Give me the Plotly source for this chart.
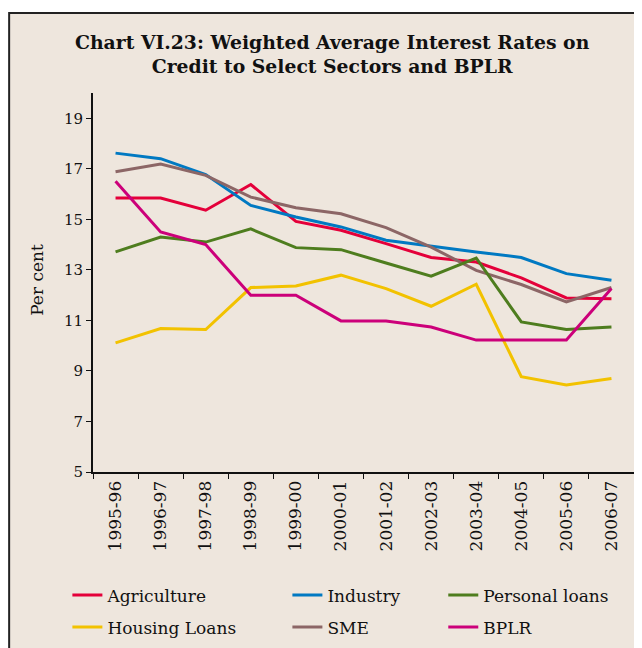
import plotly.graph_objects as go

years = ["1995-96", "1996-97", "1997-98", "1998-99", "1999-00", "2000-01",
         "2001-02", "2002-03", "2003-04", "2004-05", "2005-06", "2006-07"]

agriculture = [15.84, 15.84, 15.36, 16.38, 14.92, 14.57, 14.04, 13.49, 13.31, 12.68, 11.89, 11.86]
industry = [17.62, 17.40, 16.77, 15.55, 15.09, 14.70, 14.17, 13.93, 13.71, 13.49, 12.85, 12.59]
personal_loans = [13.71, 14.30, 14.10, 14.62, 13.88, 13.80, 13.27, 12.75, 13.47, 10.94, 10.64, 10.74]
housing_loans = [10.11, 10.68, 10.64, 12.30, 12.36, 12.79, 12.26, 11.56, 12.43, 8.77, 8.44, 8.70]
sme = [16.88, 17.19, 16.74, 15.88, 15.46, 15.22, 14.67, 13.90, 12.98, 12.42, 11.73, 12.30]
bplr = [16.51, 14.50, 14.00, 12.00, 12.00, 10.98, 10.98, 10.74, 10.22, 10.22, 10.22, 12.26]

y_ticks = [5, 7, 9, 11, 13, 15, 17, 19]

series = [
    ("Agriculture", agriculture, "#E4003A", "legend"),
    ("Housing Loans", housing_loans, "#F2C200", "legend"),
    ("Industry", industry, "#0079C2", "legend2"),
    ("SME", sme, "#8C6666", "legend2"),
    ("Personal loans", personal_loans, "#4E7D1E", "legend3"),
    ("BPLR", bplr, "#CC007A", "legend3"),
]

FONT = "DejaVu Serif"
fig = go.Figure()
for name, vals, color, lg in series:
    fig.add_trace(go.Scatter(
        x=years, y=vals, name=name, mode="lines",
        line=dict(color=color, width=3),
        legend=lg, legendgroup=name,
    ))

# background panel with border
fig.add_shape(type="rect", xref="paper", yref="paper",
              x0=-0.155, x1=1.2, y0=-0.6, y1=1.211,
              fillcolor="#EEE6DD", line=dict(color="#222222", width=2),
              layer="below")

fig.add_annotation(
    text="<b>Chart VI.23: Weighted Average Interest Rates on<br>Credit to Select Sectors and BPLR</b>",
    xref="paper", yref="paper", x=0.442, y=1.1016, xanchor="center", yanchor="middle",
    showarrow=False, font=dict(family=FONT, size=18.8, color="#111111"), align="center",
)
fig.add_annotation(
    text="Per cent", textangle=-90, xref="paper", yref="paper",
    x=-0.1035, y=0.507, xanchor="center", yanchor="middle",
    showarrow=False, font=dict(family=FONT, size=17, color="#111111"),
)

legend_common = dict(
    orientation="v", yanchor="top", xanchor="left",
    xref="container", yref="container", y=0.1213,
    bgcolor="rgba(0,0,0,0)", font=dict(family=FONT, size=17, color="#111111"),
    tracegroupgap=7,
)
fig.update_layout(
    width=642, height=648,
    margin=dict(l=85, r=16, t=85, b=184, autoexpand=False),
    paper_bgcolor="white", plot_bgcolor="rgba(0,0,0,0)",
    font=dict(family=FONT, size=15, color="#111111"),
    showlegend=True,
    legend=dict(x=0.0925, **legend_common),
    legend2=dict(x=0.4352, **legend_common),
    legend3=dict(x=0.678, **legend_common),
    xaxis=dict(
        type="category", range=[-0.5, 11.5], tickson="boundaries",
        ticks="outside", ticklen=5, tickcolor="#111111",
        showline=True, linecolor="#111111", linewidth=2,
        showgrid=False, tickangle=-90, tickfont=dict(family=FONT, size=17),
        zeroline=False,
    ),
    yaxis=dict(
        range=[5, 20], tickvals=y_ticks, ticks="outside", ticklen=5,
        tickcolor="#111111", showline=True, linecolor="#111111", linewidth=2,
        showgrid=False, zeroline=False, tickfont=dict(family=FONT, size=15),
    ),
)

fig.write_html("out.html")
